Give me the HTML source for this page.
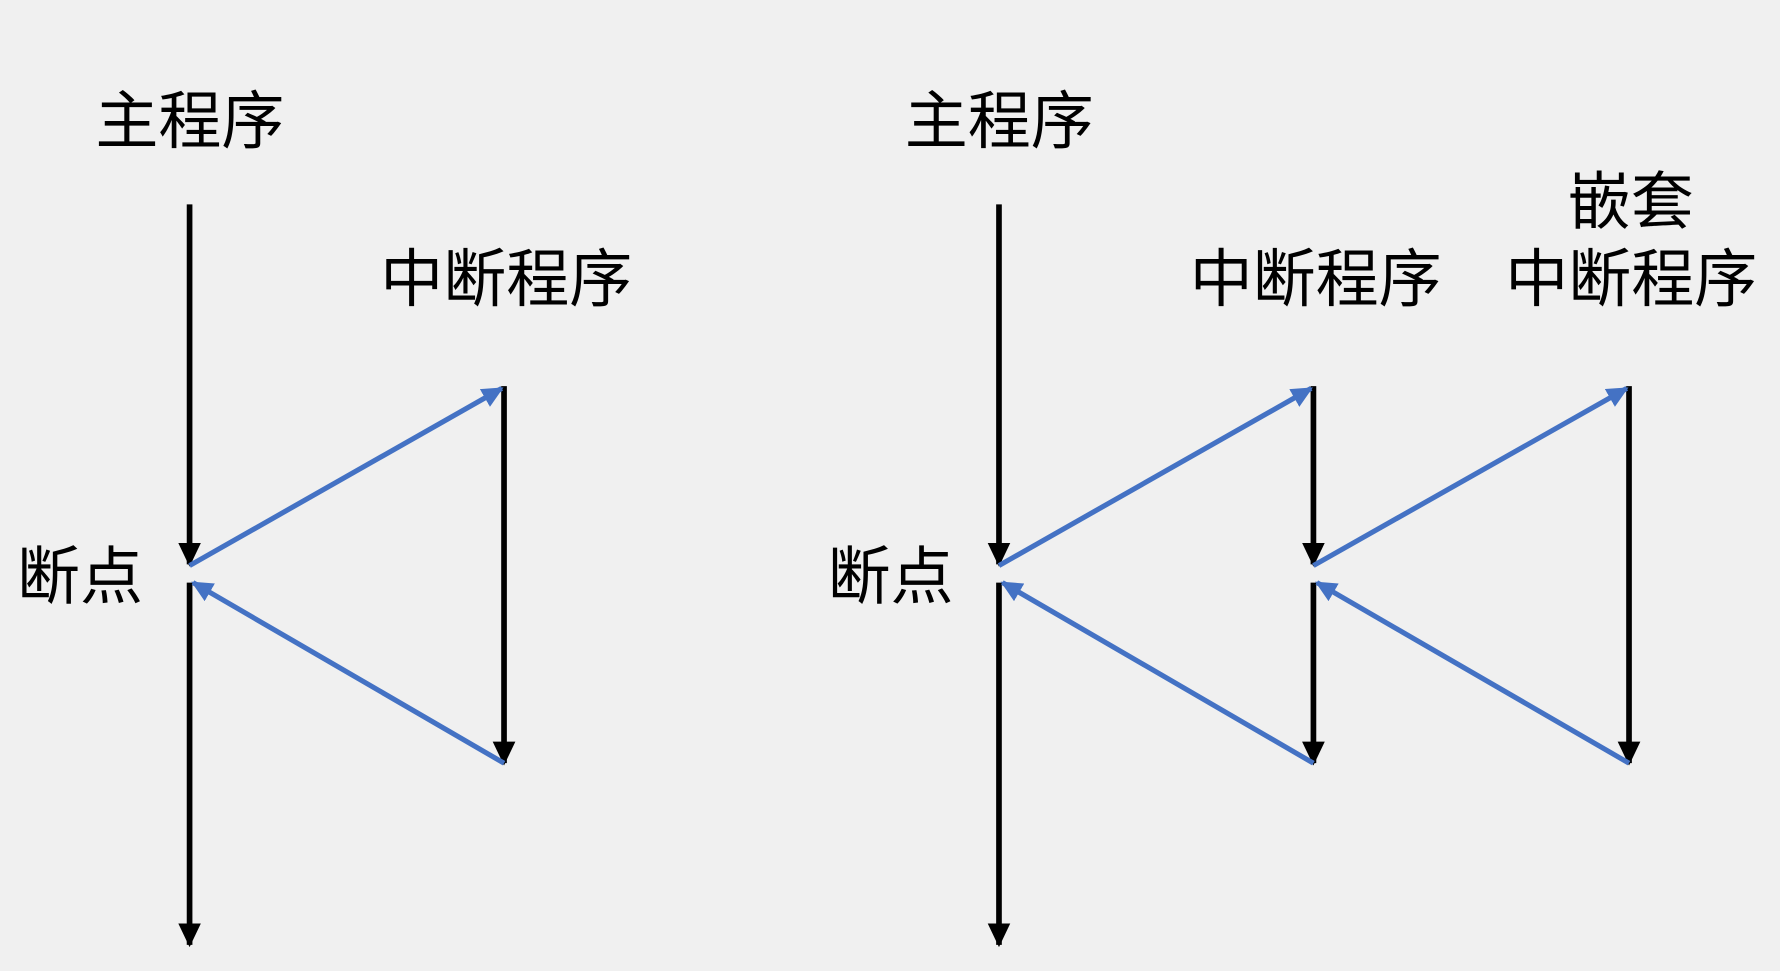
<!DOCTYPE html>
<html><head><meta charset="utf-8"><style>
html,body{margin:0;padding:0;background:#f0f0f0;width:1780px;height:971px;overflow:hidden}
svg{display:block}
text{font-family:"Liberation Sans","Noto Sans CJK SC",sans-serif;font-size:55.5px;fill:#000}
</style></head><body>
<svg width="1780" height="971" viewBox="0 0 1568 855" preserveAspectRatio="none" xmlns="http://www.w3.org/2000/svg">
<defs>
<marker id="bk" markerWidth="4.2" markerHeight="4" refX="3.8" refY="2" orient="auto" markerUnits="strokeWidth">
<path d="M0,0 L4.2,2 L0,4 z" fill="#000"/></marker>
<marker id="bl" markerWidth="4.2" markerHeight="4" refX="3.8" refY="2" orient="auto" markerUnits="strokeWidth">
<path d="M0,0 L4.2,2 L0,4 z" fill="#4472c4"/></marker>
</defs>
<rect width="1568" height="855" fill="#f0f0f0"/>
<g stroke="#000" stroke-width="5" marker-end="url(#bk)">
<line x1="167" y1="180" x2="167" y2="497"/>
<line x1="167" y1="513" x2="167" y2="832"/>
<line x1="444" y1="340" x2="444" y2="672"/>
<line x1="880" y1="180" x2="880" y2="497"/>
<line x1="880" y1="513" x2="880" y2="832"/>
<line x1="1157" y1="340" x2="1157" y2="497"/>
<line x1="1157" y1="513" x2="1157" y2="672"/>
<line x1="1435" y1="340" x2="1435" y2="672"/>
</g>
<g stroke="#4472c4" stroke-width="4.5" marker-end="url(#bl)">
<line x1="167" y1="498" x2="442" y2="342"/>
<line x1="444" y1="672" x2="170" y2="513"/>
<line x1="880" y1="498" x2="1155" y2="342"/>
<line x1="1157" y1="672" x2="883" y2="513"/>
<line x1="1157" y1="498" x2="1433" y2="342"/>
<line x1="1435" y1="672" x2="1160" y2="513"/>
</g>
<text x="84" y="126">主程序</text>
<text x="335" y="265">中断程序</text>
<text x="15" y="527">断点</text>
<text x="797" y="126">主程序</text>
<text x="1381" y="197">嵌套</text>
<text x="1048" y="265">中断程序</text>
<text x="1326" y="265">中断程序</text>
<text x="729" y="527">断点</text>
</svg>
</body></html>
